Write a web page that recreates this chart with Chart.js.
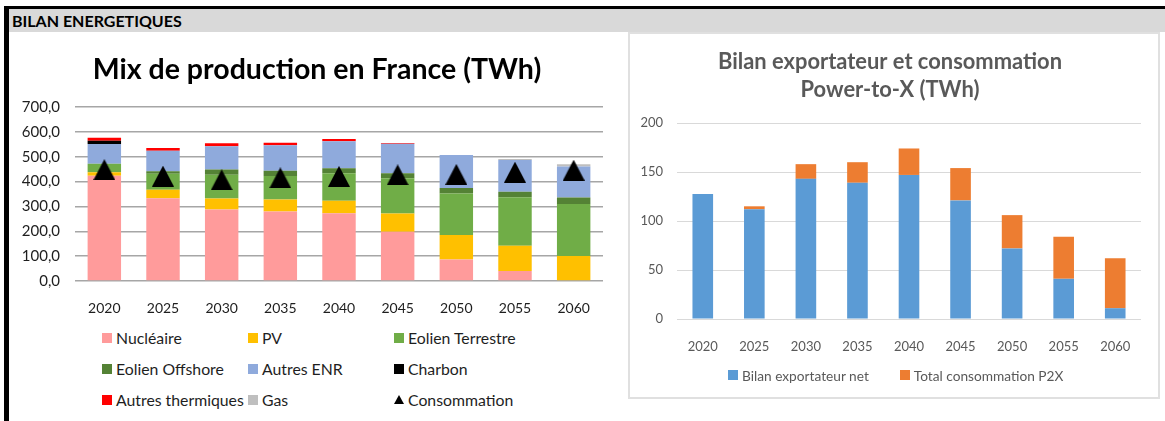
<!DOCTYPE html>
<html>
<head>
<meta charset="utf-8">
<script src="https://cdn.jsdelivr.net/npm/chart.js@4.4.1/dist/chart.umd.min.js"></script>
<style>
  html, body { margin: 0; padding: 0; background: #fff; width: 1165px; height: 421px; overflow: hidden; font-family: Lato, "Open Sans", sans-serif; }
  #frameTop { position: absolute; left: 4px; top: 6px; width: 1161px; height: 3px; background: #000; }
  #frameLeft { position: absolute; left: 4px; top: 6px; width: 5px; height: 415px; background: #000; }
  #header { position: absolute; left: 9px; top: 9px; width: 1156px; height: 23px; background: #d9d9d9; }
  #header span { position: absolute; left: 3px; top: 2px; font-weight: bold; font-size: 16px; color: #000; }
  #mixWrap { position: absolute; left: 9px; top: 32px; width: 619px; height: 290px; }
  #p2xPanel { position: absolute; left: 628px; top: 32px; width: 528px; height: 363px; border: 2px solid #e0e0e0; background: #fff; }
  #p2xWrap { position: absolute; left: 0; top: 0; width: 528px; height: 363px; }
  .legend { position: absolute; display: grid; }
  #mixLegend { left: 102px; top: 322px; grid-template-columns: 146px 146px auto; grid-auto-rows: 31px; }
  #p2xLegend { left: 98px; top: 331px; grid-template-columns: auto auto; column-gap: 31px; grid-auto-rows: 20px; }
  .item { display: flex; align-items: center; white-space: nowrap; }
  #mixLegend .item { font-size: 15.8px; color: #1e1e1e; }
  #p2xLegend .item { font-size: 13.7px; color: #595959; }
  .sw { width: 10px; height: 10px; margin-right: 4px; flex: none; }
  .tri { width: 0; height: 0; border-left: 5px solid transparent; border-right: 5px solid transparent; border-bottom: 9px solid #000; margin-right: 4px; flex: none; }
</style>
</head>
<body>
<div id="frameTop"></div>
<div id="frameLeft"></div>
<div id="header"><span>BILAN ENERGETIQUES</span></div>

<div id="mixWrap"><canvas id="mixChart"></canvas></div>
<div id="mixLegend" class="legend"></div>

<div id="p2xPanel">
  <div id="p2xWrap"><canvas id="p2xChart"></canvas></div>
  <div id="p2xLegend" class="legend"></div>
</div>

<script>
// Years shown on both charts
const years = ['2020', '2025', '2030', '2035', '2040', '2045', '2050', '2055', '2060'];

// Production mix (TWh), stacked bottom to top
const nucleaire        = [423, 333, 288, 280, 273, 198, 86, 40, 0];
const pv               = [15, 34, 44, 48, 50, 74, 99, 102, 101];
const eolienTerrestre  = [34, 64, 95, 94, 110, 141, 167, 195, 209];
const eolienOffshore   = [0, 11, 22, 22, 21, 20, 22, 22, 26];
const autresEnr        = [79, 82, 93, 102, 108, 119, 133, 128, 125];
const charbon          = [13, 0, 0, 0, 0, 0, 0, 0, 0];
const autresThermiques = [12, 11, 12, 10, 9, 3, 0, 0, 0];
const gas              = [0, 0, 0, 0, 0, 0, 0, 4, 9];
const consommation     = [448, 422, 407, 415, 421, 427, 429, 438, 446];

// Export balance and Power-to-X consumption (TWh)
const bilanExportateurNet = [127.5, 112, 143, 139, 147, 121, 72, 41, 11];
const consommationP2X     = [0, 3, 15, 21, 27, 33, 34, 43, 51];

// Y axis range and step for each chart
const mixAxis = { min: 0, max: 700, step: 100 };
const p2xAxis = { min: 0, max: 200, step: 50 };

const FONT = 'Lato, "Open Sans", sans-serif';

// Filled triangle marker, centred on its bounding box
function triangleMarker(w, h, color) {
  const c = document.createElement('canvas');
  c.width = w; c.height = h;
  const g = c.getContext('2d');
  g.fillStyle = color;
  g.beginPath();
  g.moveTo(w / 2, 0);
  g.lineTo(w, h);
  g.lineTo(0, h);
  g.closePath();
  g.fill();
  return c;
}

// Narrows the title block from the left so the heading sits a little right of the axis labels
const titleInset = {
  id: 'titleInset',
  afterLayout(chart, args, opts) {
    const t = chart.titleBlock;
    if (t && opts.left) {
      t.left += opts.left;
      t.width = t.right - t.left;
    }
  }
};

const mixSeries = [
  { label: 'Nucléaire', data: nucleaire, color: '#ff9b9b' },
  { label: 'PV', data: pv, color: '#ffc000' },
  { label: 'Eolien Terrestre', data: eolienTerrestre, color: '#70ad47' },
  { label: 'Eolien Offshore', data: eolienOffshore, color: '#548235' },
  { label: 'Autres ENR', data: autresEnr, color: '#8faadc' },
  { label: 'Charbon', data: charbon, color: '#000000' },
  { label: 'Autres thermiques', data: autresThermiques, color: '#ff0000' },
  { label: 'Gas', data: gas, color: '#bfbfbf' }
];

const mixDatasets = mixSeries.map(s => ({
  type: 'bar',
  label: s.label,
  data: s.data,
  backgroundColor: s.color,
  borderWidth: 0,
  stack: 'mix',
  barPercentage: 0.57,
  categoryPercentage: 1,
  order: 2
}));
mixDatasets.push({
  type: 'line',
  label: 'Consommation',
  data: consommation,
  showLine: false,
  stack: 'conso',
  pointStyle: triangleMarker(22, 21, '#000'),
  pointRadius: 11,
  pointHoverRadius: 11,
  order: 0
});

new Chart(document.getElementById('mixChart'), {
  data: { labels: years, datasets: mixDatasets },
  plugins: [titleInset],
  options: {
    responsive: true,
    maintainAspectRatio: false,
    animation: false,
    events: [],
    layout: { padding: { left: 0, right: 25, top: 0, bottom: 0 } },
    plugins: {
      legend: { display: false },
      tooltip: { enabled: false },
      titleInset: { left: 22 },
      title: {
        display: true,
        text: 'Mix de production en France (TWh)',
        color: '#000',
        font: { family: FONT, size: 28.5, weight: 'bold', lineHeight: 1.3 },
        padding: { top: 19.5, bottom: 18.45 }
      }
    },
    scales: {
      x: {
        stacked: true,
        grid: { display: false },
        border: { display: false },
        ticks: { color: '#1e1e1e', font: { family: FONT, size: 14 }, padding: 11 },
        afterFit: s => { s.height = 41; }
      },
      y: {
        stacked: true,
        min: mixAxis.min,
        max: mixAxis.max,
        border: { display: false },
        grid: { color: '#a6a6a6', lineWidth: 1.5, drawTicks: false },
        ticks: {
          stepSize: mixAxis.step,
          padding: 15,
          color: '#1e1e1e',
          font: { family: FONT, size: 15 },
          callback: v => v.toFixed(1).replace('.', ',')
        },
        afterFit: s => { s.width = 66; }
      }
    }
  }
});

// Legend for the production mix, three columns
const mixLegend = document.getElementById('mixLegend');
mixSeries.forEach(s => {
  const it = document.createElement('div');
  it.className = 'item';
  it.innerHTML = '<span class="sw" style="background:' + s.color + '"></span>' + s.label;
  mixLegend.appendChild(it);
});
{
  const it = document.createElement('div');
  it.className = 'item';
  it.innerHTML = '<span class="tri"></span>Consommation';
  mixLegend.appendChild(it);
}

const p2xSeries = [
  { label: 'Bilan exportateur net', data: bilanExportateurNet, color: '#5b9bd5' },
  { label: 'Total consommation P2X', data: consommationP2X, color: '#ed7d31' }
];

new Chart(document.getElementById('p2xChart'), {
  type: 'bar',
  data: {
    labels: years,
    datasets: p2xSeries.map(s => ({
      label: s.label,
      data: s.data,
      backgroundColor: s.color,
      borderWidth: 0,
      barPercentage: 0.4,
      categoryPercentage: 1
    }))
  },
  options: {
    responsive: true,
    maintainAspectRatio: false,
    animation: false,
    events: [],
    layout: { padding: { left: 9, right: 17, top: 0, bottom: 0 } },
    plugins: {
      legend: { display: false },
      tooltip: { enabled: false },
      title: {
        display: true,
        text: ['Bilan exportateur et consommation', 'Power-to-X (TWh)'],
        color: '#595959',
        font: { family: FONT, size: 21.9, weight: 'bold', lineHeight: 28 / 21.9 },
        padding: { top: 14, bottom: 19 }
      }
    },
    scales: {
      x: {
        stacked: true,
        grid: { display: false },
        border: { display: false },
        ticks: { color: '#595959', font: { family: FONT, size: 13 }, padding: 12 },
        afterFit: s => { s.height = 78; }
      },
      y: {
        stacked: true,
        min: p2xAxis.min,
        max: p2xAxis.max,
        border: { display: false },
        grid: { color: '#d9d9d9', lineWidth: 1, drawTicks: false },
        ticks: { stepSize: p2xAxis.step, padding: 14, color: '#595959', font: { family: FONT, size: 13 } },
        afterFit: s => { s.width = 38; }
      }
    }
  }
});

const p2xLegend = document.getElementById('p2xLegend');
p2xSeries.forEach(s => {
  const it = document.createElement('div');
  it.className = 'item';
  it.innerHTML = '<span class="sw" style="background:' + s.color + '"></span>' + s.label;
  p2xLegend.appendChild(it);
});
</script>
</body>
</html>
